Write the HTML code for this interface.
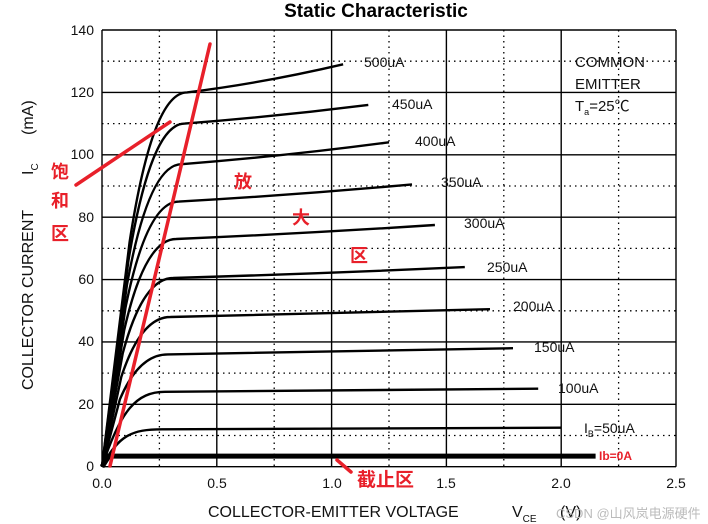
<!DOCTYPE html>
<html><head><meta charset="utf-8"><style>
html,body{margin:0;padding:0;background:#fff;}
svg{display:block;font-family:"Liberation Sans","Noto Sans CJK SC",sans-serif;}
</style></head><body>
<svg width="708" height="524" viewBox="0 0 708 524" xmlns="http://www.w3.org/2000/svg">
<rect width="708" height="524" fill="#fff"/>
<text x="376" y="17" font-size="19" font-weight="bold" text-anchor="middle">Static Characteristic</text>
<g stroke="#000" stroke-width="1.4">
<line x1="102" y1="30" x2="102" y2="466.7"/>
<line x1="216.8" y1="30" x2="216.8" y2="466.7"/>
<line x1="331.6" y1="30" x2="331.6" y2="466.7"/>
<line x1="446.4" y1="30" x2="446.4" y2="466.7"/>
<line x1="561.2" y1="30" x2="561.2" y2="466.7"/>
<line x1="676" y1="30" x2="676" y2="466.7"/>
<line x1="102" y1="466.7" x2="676" y2="466.7"/>
<line x1="102" y1="404.3" x2="676" y2="404.3"/>
<line x1="102" y1="341.9" x2="676" y2="341.9"/>
<line x1="102" y1="279.6" x2="676" y2="279.6"/>
<line x1="102" y1="217.2" x2="676" y2="217.2"/>
<line x1="102" y1="154.8" x2="676" y2="154.8"/>
<line x1="102" y1="92.4" x2="676" y2="92.4"/>
<line x1="102" y1="30" x2="676" y2="30"/>
</g>
<g stroke="#000" stroke-width="1.3" stroke-dasharray="1.5,4">
<line x1="159.4" y1="30" x2="159.4" y2="466.7"/>
<line x1="274.2" y1="30" x2="274.2" y2="466.7"/>
<line x1="389" y1="30" x2="389" y2="466.7"/>
<line x1="503.8" y1="30" x2="503.8" y2="466.7"/>
<line x1="618.6" y1="30" x2="618.6" y2="466.7"/>
<line x1="102" y1="435.5" x2="676" y2="435.5"/>
<line x1="102" y1="373.1" x2="676" y2="373.1"/>
<line x1="102" y1="310.8" x2="676" y2="310.8"/>
<line x1="102" y1="248.4" x2="676" y2="248.4"/>
<line x1="102" y1="186" x2="676" y2="186"/>
<line x1="102" y1="123.6" x2="676" y2="123.6"/>
<line x1="102" y1="61.2" x2="676" y2="61.2"/>
</g>
<g fill="none" stroke="#000" stroke-width="2.4">
<path d="M102,466.7 L129.6,242.1 C146.8,129.8 166.9,92.4 187,92.4 Q262.7,83.1 343.1,64.3"/>
<path d="M102,466.7 L128.4,260.8 C145.3,157.9 164.9,123.6 184.7,123.6 Q276.5,116.4 368.3,104.9"/>
<path d="M102,466.7 L126.9,285.2 C143.3,194.4 162.6,164.2 181.7,164.2 Q285.7,156 389,142.3"/>
<path d="M102,466.7 L125.5,307.6 C141.5,228.1 160.3,201.6 178.9,201.6 Q294.9,195 412,184.4"/>
<path d="M102,466.7 L124.2,330.1 C139.7,261.8 158,239 176.2,239 Q306.3,233.4 434.9,225"/>
<path d="M102,466.7 L122.7,353.5 C137.8,296.7 155.5,278 173.2,278 Q320.1,273.6 464.8,267.1"/>
<path d="M102,466.7 L121.3,376.9 C136,332 153.2,317 170.4,317 Q331.6,313.6 490,309.2"/>
<path d="M102,466.7 L119.9,399.3 C134.1,365.6 150.9,354.4 167.7,354.4 Q340.8,351.6 513,348.2"/>
<path d="M102,466.7 C120.4,410.6 136.4,391.8 164.9,391.8 Q352.3,390.3 538.2,388.7"/>
<path d="M102,466.7 C118.1,435.5 131.8,429.3 162.2,429.3 Q361.4,428.3 561.2,427.7"/>
<path d="M102,466.7 L108.9,456.1 L595.6,456.1" stroke-width="5"/>
</g>
<g font-size="14" fill="#111">
<text x="94" y="35" text-anchor="end">140</text>
<text x="94" y="97" text-anchor="end">120</text>
<text x="94" y="159" text-anchor="end">100</text>
<text x="94" y="222" text-anchor="end">80</text>
<text x="94" y="284" text-anchor="end">60</text>
<text x="94" y="346" text-anchor="end">40</text>
<text x="94" y="409" text-anchor="end">20</text>
<text x="94" y="471" text-anchor="end">0</text>
<text x="102" y="488" text-anchor="middle">0.0</text>
<text x="217" y="488" text-anchor="middle">0.5</text>
<text x="332" y="488" text-anchor="middle">1.0</text>
<text x="446" y="488" text-anchor="middle">1.5</text>
<text x="561" y="488" text-anchor="middle">2.0</text>
<text x="676" y="488" text-anchor="middle">2.5</text>
<text x="364" y="67">500uA</text>
<text x="392" y="109">450uA</text>
<text x="415" y="146">400uA</text>
<text x="441" y="187">350uA</text>
<text x="464" y="228">300uA</text>
<text x="487" y="272">250uA</text>
<text x="513" y="311">200uA</text>
<text x="534" y="352">150uA</text>
<text x="558" y="393">100uA</text>
<text x="584" y="433">I<tspan font-size="9" dy="4">B</tspan><tspan dy="-4">=50uA</tspan></text>
<text x="575" y="67" font-size="15">COMMON</text>
<text x="575" y="89" font-size="15">EMITTER</text>
<text x="575" y="111" font-size="15">T<tspan font-size="9" dy="4">a</tspan><tspan dy="-4">=25℃</tspan></text>
<text x="208" y="517" font-size="16">COLLECTOR-EMITTER VOLTAGE</text>
<text x="512" y="517" font-size="16">V<tspan font-size="10" dy="5">CE</tspan></text>
<text x="560" y="517" font-size="16">(V)</text>
<g transform="translate(33,390) rotate(-90)" font-size="16">
<text x="0" y="0">COLLECTOR CURRENT</text>
<text x="215" y="0">I<tspan font-size="10" dy="5">C</tspan></text>
<text x="255" y="0">(mA)</text>
</g>
</g>
<text x="556" y="518" font-size="13" fill="#bbb">CSDN @山风岚电源硬件</text>
<g stroke="#e8202a" stroke-width="3.5" stroke-linecap="round">
<line x1="210" y1="44" x2="110" y2="466"/>
<line x1="76" y1="185" x2="170" y2="122"/>
<line x1="337" y1="460" x2="351" y2="472"/>
</g>
<g fill="#e8202a" font-weight="bold" font-size="18">
<text x="51" y="178">饱</text>
<text x="51" y="207">和</text>
<text x="51" y="240">区</text>
<text x="234" y="188">放</text>
<text x="292" y="224">大</text>
<text x="350" y="262">区</text>
<text x="357" y="486" font-size="19">截止区</text>
<text x="599" y="460" font-size="12">Ib=0A</text>
</g>
</svg>
</body></html>
